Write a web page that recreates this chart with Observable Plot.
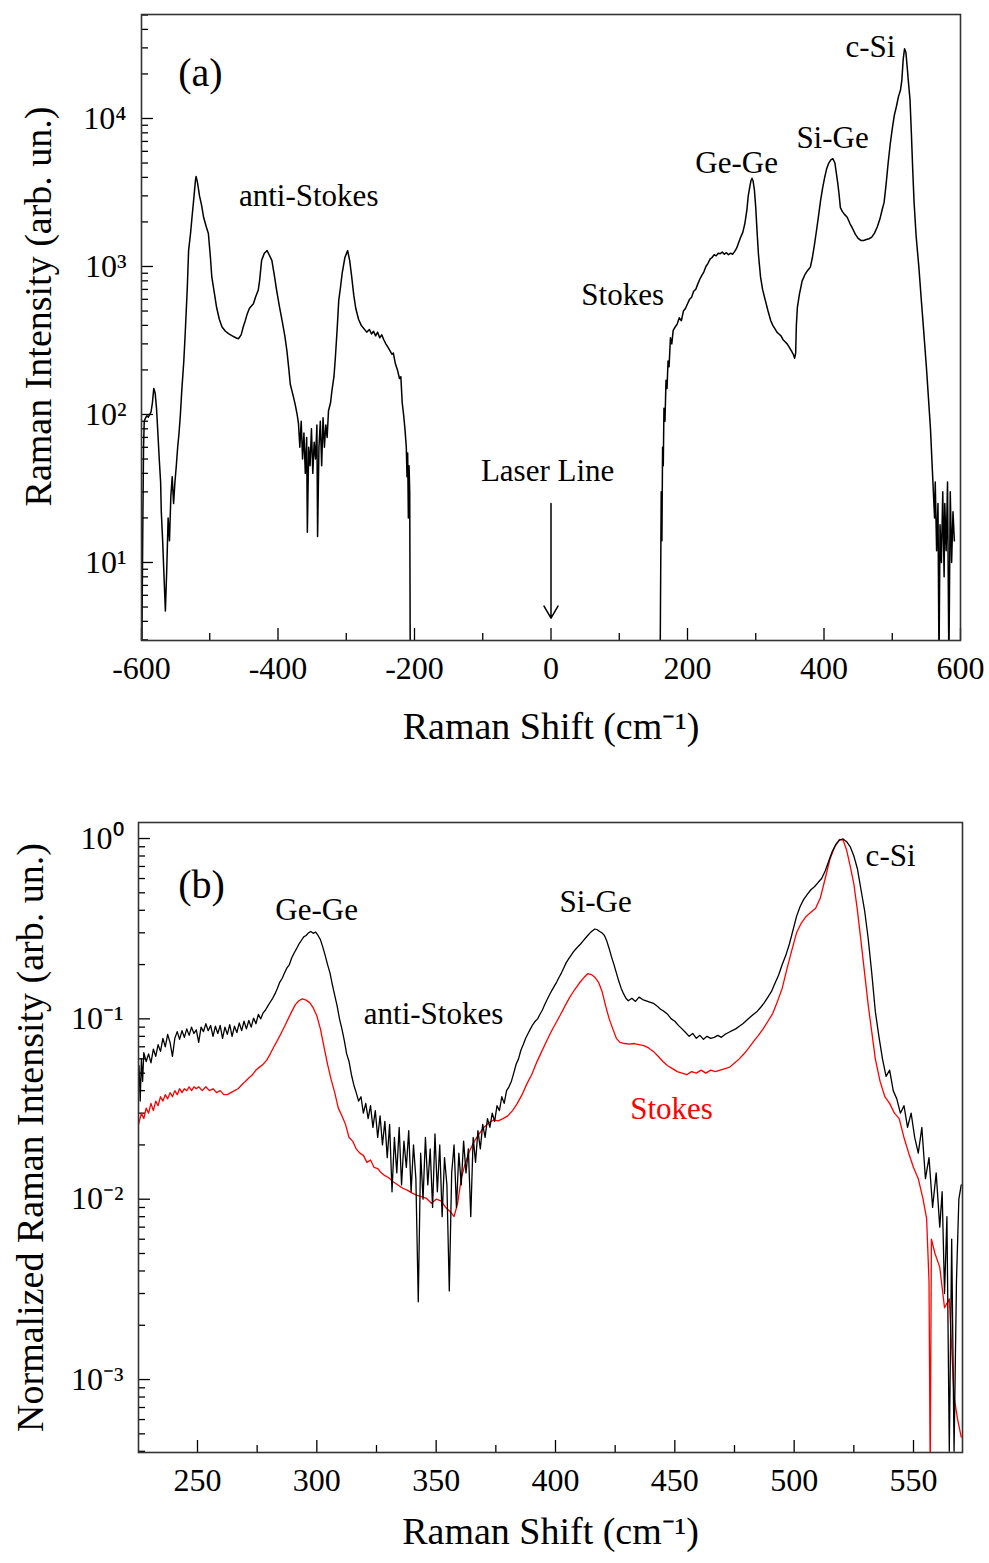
<!DOCTYPE html>
<html><head><meta charset="utf-8">
<script src="https://cdn.jsdelivr.net/npm/d3@7"></script>
<script src="https://cdn.jsdelivr.net/npm/@observablehq/plot@0.6"></script>
<style>body{margin:0;background:#fff;} #chart svg{display:block;}</style>
</head><body><div id="chart"></div>
<script>
// ---------- Panel (a): full spectrum, [Raman shift cm-1, intensity arb. un.] ----------
const antiStokesA = [[-600,1],[-599,5],[-598,20],[-597,60],[-596,90],[-594,95],[-592,98],[-590,96],[-588,100],[-586,104],[-584,120],[-582,150],[-580,140],[-578,110],[-576,75],[-574,50],[-572,35],[-571,22],[-569,14],[-567,8],[-565,4.7],[-563,9],[-561,20],[-559,14],[-557,28],[-555,38],[-553,25],[-551,35],[-549,45],[-547,60],[-545,75],[-543,100],[-541,145],[-538,230],[-536,350],[-533,700],[-531,1280],[-528,1700],[-526,2150],[-523,3000],[-521,3800],[-520,4060],[-518,3700],[-515,3000],[-512,2600],[-509,2150],[-505,1850],[-502,1670],[-499,1150],[-497,850],[-493,650],[-490,530],[-486,440],[-482,390],[-477,365],[-472,350],[-467,340],[-462,330],[-458,325],[-454,345],[-451,390],[-448,430],[-445,480],[-442,520],[-439,540],[-436,560],[-433,620],[-429,690],[-427,800],[-424,1100],[-420,1230],[-416,1280],[-413,1200],[-409,1100],[-405,850],[-402,690],[-398,540],[-394,430],[-390,340],[-387,270],[-384,200],[-382,160],[-378,135],[-375,118],[-372,100],[-370,87],[-368,60],[-366,90],[-364,50],[-362,75],[-360,40],[-358,70],[-357,16],[-355,60],[-353,45],[-351,80],[-349,40],[-347,65],[-345,50],[-343,85],[-342,15],[-340,60],[-338,90],[-336,45],[-334,95],[-332,60],[-330,85],[-328,70],[-326,106],[-323,120],[-321,145],[-318,180],[-316,240],[-313,400],[-311,590],[-308,750],[-306,900],[-302,1150],[-298,1280],[-295,1100],[-292,850],[-289,640],[-286,520],[-282,440],[-278,400],[-274,380],[-270,360],[-266,375],[-263,350],[-260,365],[-257,340],[-254,360],[-251,330],[-248,345],[-245,320],[-242,300],[-239,285],[-236,270],[-233,255],[-231,260],[-228,220],[-225,200],[-222,175],[-220,180],[-218,120],[-216,100],[-214,80],[-212,60],[-211,38],[-210,55],[-209,20],[-208,45],[-207,30],[-206,1]];
const stokesA = [[159.5,1],[160.5,6],[161.5,30],[162.5,14],[163.5,60],[164.5,45],[165.5,110],[167,90],[168.5,170],[170,150],[171.5,230],[173,210],[175,330],[177,300],[179,370],[182,390],[185,410],[188,450],[191,430],[194,500],[197,520],[200,560],[203,600],[206,620],[209,680],[212,700],[215,760],[218,820],[221,870],[224,920],[227,1000],[230,1050],[233,1120],[236,1150],[239,1200],[242,1180],[245,1230],[248,1220],[251,1250],[254,1210],[257,1240],[260,1200],[263,1230],[266,1210],[269,1260],[272,1330],[275,1450],[278,1580],[281,1700],[284,1950],[287,2400],[289,3000],[291,3400],[293,3800],[294.5,3950],[296,3800],[298,3300],[300,2500],[302,1700],[304,1200],[307,850],[310,700],[314,590],[318,500],[322,430],[325,400],[328,380],[331,360],[334,350],[337,340],[340,320],[343,310],[346,300],[349,285],[352,270],[355,255],[357,240],[358.5,260],[359.5,400],[361,530],[364,650],[368,800],[372,880],[376,940],[380,990],[383,1150],[386,1400],[389,1750],[392,2200],[395,2800],[398,3400],[401,4000],[404,4600],[407,5000],[410,5250],[413,5350],[416,5000],[418,4300],[420,3700],[422,3100],[424,2500],[427,2350],[430,2250],[434,2150],[438,1950],[442,1800],[446,1650],[450,1550],[454,1500],[458,1500],[462,1520],[466,1540],[470,1580],[474,1680],[478,1850],[482,2100],[485,2400],[488,2700],[491,3600],[494,5000],[497,6700],[500,8500],[503,10500],[506,12000],[509,14000],[512,15500],[514,18000],[516,25000],[518,29600],[520,28000],[522,22000],[524,17000],[526,13500],[528,8000],[530,4500],[532,2700],[535,1600],[539,990],[543,560],[546,370],[550,210],[553,130],[556,80],[559,40],[562,20],[563,35],[565,12],[567,25],[568.5,2],[570,18],[572,10],[574,30],[576,8],[577,25],[579,12],[581,35],[583,2],[585,30],[587,10],[589,22],[591,14]];

const xMajorA = [-600, -400, -200, 0, 200, 400, 600];
const xMinorA = [-500, -300, -100, 100, 300, 500];
const yMajorA = [10, 100, 1000, 10000];
const labelsA = ["(a)", "anti-Stokes", "Stokes", "Laser Line", "Ge-Ge", "Si-Ge", "c-Si"];
const laserLine = [{shift: 0, from: 25, to: 4.2}];

// ---------- Panel (b): normalized, zoomed ----------
const antiStokesB = [[225.5,0.055],[226,0.035],[226.5,0.06],[227,0.045],[227.5,0.065],[228.5,0.058],[229.5,0.064],[230.5,0.057],[231.5,0.068],[232.5,0.062],[233.5,0.072],[234.5,0.066],[235.5,0.078],[236.5,0.07],[237.5,0.082],[238.5,0.074],[239.5,0.062],[240.5,0.078],[241.5,0.085],[242.5,0.077],[243.5,0.086],[244.5,0.079],[245.5,0.088],[246.5,0.081],[247.5,0.09],[248.5,0.083],[249.5,0.087],[250.5,0.074],[251.5,0.09],[252.5,0.085],[253.5,0.094],[254.5,0.086],[255.5,0.092],[256.5,0.08],[257.5,0.091],[258.5,0.083],[259.5,0.092],[260.5,0.078],[261.5,0.09],[262.5,0.082],[263.5,0.093],[264.5,0.08],[265.5,0.091],[266.5,0.084],[267.5,0.095],[268.5,0.086],[269.5,0.097],[270.5,0.088],[271.5,0.098],[272.5,0.09],[273.5,0.101],[274.5,0.094],[275.5,0.106],[276.5,0.1],[277.5,0.108],[278.5,0.112],[279.5,0.118],[280.5,0.124],[281.5,0.13],[282.5,0.138],[283.5,0.148],[284.5,0.16],[285.5,0.168],[286.5,0.18],[287.5,0.192],[288.5,0.2],[289.5,0.218],[290.5,0.232],[291.5,0.245],[292.5,0.26],[293.5,0.272],[294.5,0.285],[295.5,0.29],[296.5,0.3],[297.5,0.305],[298.5,0.298],[299.5,0.303],[300.5,0.29],[301.5,0.275],[302.5,0.25],[303.5,0.225],[304.5,0.2],[305.5,0.18],[306.5,0.155],[307.5,0.135],[308.5,0.118],[309.5,0.1],[310.5,0.088],[311.5,0.076],[312.5,0.064],[313.5,0.058],[314.5,0.049],[315.5,0.043],[316.5,0.039],[317.5,0.035],[318.5,0.037],[319.5,0.03],[320.5,0.034],[321.5,0.028],[322.5,0.033],[323.5,0.025],[324.5,0.031],[325.5,0.022],[326.5,0.029],[327.5,0.02],[328.5,0.027],[329.5,0.017],[330.5,0.026],[331.5,0.011],[332.5,0.022],[333.5,0.014],[334.5,0.025],[335.5,0.012],[336.5,0.021],[337.5,0.015],[338.5,0.024],[339.5,0.011],[340.5,0.02],[341.5,0.013],[342.5,0.0027],[343.5,0.018],[344.5,0.01],[345.5,0.022],[346.5,0.012],[347.5,0.019],[348.5,0.009],[349.5,0.023],[350.5,0.011],[351.5,0.02],[352.5,0.008],[353.5,0.017],[354.5,0.012],[355.5,0.0031],[356.5,0.014],[357.5,0.02],[358.5,0.009],[359.5,0.018],[360.5,0.012],[361.5,0.021],[362.5,0.014],[363.5,0.019],[364.5,0.008],[365.5,0.022],[366.5,0.016],[367.5,0.024],[368.5,0.019],[369.5,0.026],[370.5,0.022],[371.5,0.028],[372.5,0.025],[373.5,0.03],[374.5,0.027],[375.5,0.033],[376.5,0.031],[377.5,0.037],[378.5,0.034],[379.5,0.04],[380.5,0.042],[381.5,0.045],[382.5,0.05],[383.5,0.056],[384.5,0.06],[385.5,0.067],[386.5,0.072],[387.5,0.078],[388.5,0.083],[389.5,0.088],[390.5,0.093],[391.5,0.097],[392.5,0.1],[393.5,0.106],[394.5,0.112],[395.5,0.12],[396.5,0.128],[397.5,0.136],[398.5,0.144],[399.5,0.152],[400.5,0.16],[401.5,0.17],[402.5,0.18],[403.5,0.192],[404.5,0.205],[405.5,0.215],[406.5,0.225],[407.5,0.235],[408.5,0.244],[409.5,0.252],[410.5,0.26],[411.5,0.27],[412.5,0.28],[413.5,0.29],[414.5,0.3],[415.5,0.308],[416.5,0.315],[417.5,0.312],[418.5,0.305],[419.5,0.3],[420.5,0.29],[421.5,0.27],[422.5,0.245],[423.5,0.22],[424.5,0.2],[425.5,0.18],[426.5,0.162],[427.5,0.148],[428.5,0.138],[429.5,0.13],[430.5,0.126],[432,0.13],[433.5,0.125],[435,0.132],[436.5,0.128],[438,0.126],[439.5,0.124],[441,0.122],[442.5,0.118],[444,0.113],[445.5,0.11],[447,0.106],[448.5,0.1],[450,0.097],[451.5,0.092],[453,0.088],[454.5,0.084],[456,0.08],[457.5,0.083],[459,0.078],[460.5,0.081],[462,0.077],[463.5,0.08],[465,0.078],[466.5,0.079],[468,0.081],[469.5,0.079],[471,0.082],[472.5,0.084],[474,0.086],[475.5,0.088],[477,0.091],[478.5,0.094],[480,0.098],[481.5,0.102],[483,0.106],[484.5,0.11],[486,0.116],[487.5,0.123],[489,0.132],[490.5,0.142],[492,0.158],[493.5,0.175],[495,0.2],[496.5,0.225],[498,0.26],[499.5,0.31],[501,0.37],[502.5,0.42],[504,0.46],[505.5,0.49],[507,0.52],[508.5,0.54],[510,0.57],[511.5,0.6],[513,0.66],[514.5,0.75],[516,0.85],[517.5,0.93],[519,0.98],[520.5,0.995],[522,0.96],[523.5,0.9],[525,0.8],[526.5,0.68],[528,0.52],[529.5,0.4],[531,0.28],[532.5,0.18],[534,0.11],[535.5,0.08],[537,0.06],[538.5,0.048],[540,0.052],[541.5,0.04],[543,0.036],[544.5,0.03],[546,0.033],[547.5,0.025],[549,0.03],[550.5,0.022],[552,0.018],[553.5,0.025],[555,0.013],[556.5,0.017],[558,0.009],[559.5,0.014],[561,0.007],[562,0.011],[563,0.003],[564,0.008],[565,0.0004],[566,0.006],[567,0.0004],[568,0.0035],[569,0.01],[570,0.012]];
const stokesB = [[225.3,0.026],[226.5,0.03],[227.5,0.028],[228.5,0.032],[229.5,0.03],[230.5,0.034],[231.5,0.031],[232.5,0.035],[233.5,0.033],[234.5,0.037],[235.5,0.035],[236.5,0.038],[237.5,0.036],[238.5,0.039],[239.5,0.037],[240.5,0.04],[241.5,0.038],[242.5,0.041],[243.5,0.039],[244.5,0.041],[245.5,0.04],[246.5,0.042],[247.5,0.04],[248.5,0.042],[249.5,0.041],[250.5,0.042],[252,0.04],[253.5,0.042],[255,0.04],[256.5,0.041],[258,0.039],[259.5,0.04],[261,0.038],[262.5,0.038],[264,0.039],[265.5,0.04],[267,0.041],[268.5,0.043],[270,0.045],[271.5,0.047],[273,0.049],[274.5,0.052],[276,0.054],[277.5,0.056],[279,0.059],[280.5,0.064],[282,0.07],[283.5,0.076],[285,0.083],[286.5,0.091],[288,0.1],[289.5,0.11],[291,0.12],[292.5,0.126],[294,0.129],[295.5,0.127],[297,0.123],[298.5,0.115],[300,0.104],[301.5,0.088],[303,0.07],[304.5,0.056],[306,0.046],[307.5,0.039],[309,0.032],[310.5,0.029],[312,0.026],[313.5,0.022],[315,0.021],[316.5,0.019],[318,0.018],[319.5,0.0175],[321,0.016],[322.5,0.0165],[324,0.015],[325.5,0.0148],[327,0.014],[328.5,0.0135],[330,0.0132],[332,0.0125],[334,0.012],[336,0.0115],[338,0.0112],[340,0.0108],[342,0.0105],[344,0.0103],[346,0.0101],[348,0.0095],[350,0.01],[352,0.0098],[354,0.009],[356,0.0085],[357.5,0.008],[359,0.0095],[360.5,0.013],[362,0.0155],[364,0.0185],[366,0.021],[368,0.023],[370,0.025],[372,0.0265],[374,0.0275],[376,0.0272],[378,0.028],[380,0.029],[382,0.031],[384,0.034],[386,0.038],[388,0.0436],[390,0.049],[392,0.057],[394,0.065],[396,0.074],[398,0.084],[400,0.094],[402,0.105],[404,0.118],[406,0.132],[408,0.145],[410,0.158],[412,0.17],[413.5,0.178],[415,0.176],[416.5,0.17],[418,0.16],[419.5,0.142],[421,0.118],[422.5,0.1],[424,0.088],[425.5,0.078],[427,0.074],[429,0.073],[431,0.0725],[433,0.073],[435,0.072],[437,0.071],[439,0.069],[441,0.066],[443,0.062],[445,0.058],[447,0.055],[449,0.053],[451,0.051],[453,0.05],[455,0.049],[457,0.051],[459,0.05],[461,0.052],[463,0.05],[465,0.052],[467,0.051],[469,0.052],[471,0.053],[473,0.054],[475,0.057],[477,0.06],[479,0.064],[481,0.069],[483,0.075],[485,0.081],[487,0.088],[489,0.097],[491,0.107],[493,0.125],[495,0.148],[497,0.19],[499,0.24],[501,0.3],[503,0.34],[505,0.37],[507,0.39],[509,0.41],[511,0.47],[513,0.6],[515,0.77],[517,0.9],[519,0.99],[520.5,0.98],[522,0.86],[523.5,0.7],[525,0.56],[526.5,0.4],[528,0.27],[529.5,0.18],[531,0.12],[532.5,0.085],[534,0.06],[536,0.045],[538,0.037],[540,0.034],[542,0.03],[544,0.028],[546,0.022],[548,0.018],[550,0.015],[552,0.013],[554,0.01],[555.5,0.0078],[556.5,0.0035],[557,0.0003],[557.5,0.006],[559,0.005],[561,0.0042],[563,0.0025],[565,0.0028],[567,0.0008],[568.5,0.0006],[570,0.00048]];

const xMajorB = [250, 300, 350, 400, 450, 500, 550];
const xMinorB = [275, 325, 375, 425, 475, 525];
const yMajorB = [0.001, 0.01, 0.1, 1];
const labelsB = ["(b)", "Ge-Ge", "anti-Stokes", "Si-Ge", "c-Si", "Stokes"];

// ---------- helpers ----------
const FONT = '"Liberation Serif","Times New Roman",serif';
const SUP = {"-": "\u207B", "0": "\u2070", "1": "\u00B9", "2": "\u00B2", "3": "\u00B3", "4": "\u2074"};
const pow10 = d => "10" + String(Math.round(Math.log10(d))).split("").map(c => SUP[c]).join("");
function minorLog(lo, hi) {
  const out = [];
  for (let e = Math.floor(Math.log10(lo)); e <= Math.ceil(Math.log10(hi)); e++)
    for (let m = 2; m <= 9; m++) { const v = m * Math.pow(10, e); if (v >= lo && v <= hi) out.push(v); }
  return out;
}
const X = d => d[0], Y = d => d[1];

function axes(xMajor, xMinor, yMajor, yDomain) {
  return [
    Plot.axisX({ticks: xMinor, tickSize: -7, tickFormat: () => "", label: null, strokeWidth: 1.3}),
    Plot.axisX({ticks: xMajor, tickSize: -12, tickPadding: 28, tickFormat: d => String(d), label: null, strokeWidth: 1.3}),
    Plot.axisY({ticks: minorLog(yDomain[0], yDomain[1]), tickSize: -7, tickFormat: () => "", label: null, strokeWidth: 1.3}),
    Plot.axisY({ticks: yMajor, tickSize: -12, tickPadding: 27, tickFormat: pow10, label: null, strokeWidth: 1.3})
  ];
}

// ---------- Panel (a) ----------
const yDomA = [2.97, 50430];
const plotA = Plot.plot({
  width: 989, height: 780,
  marginTop: 14, marginBottom: 140, marginLeft: 141, marginRight: 29,
  style: {fontFamily: FONT, fontSize: "32px", color: "#000", background: "#fff"},
  x: {domain: [-600, 600]},
  y: {type: "log", domain: yDomA},
  marks: [
    ...axes(xMajorA, xMinorA, yMajorA, yDomA),
    Plot.line(antiStokesA, {x: X, y: Y, stroke: "#000", strokeWidth: 1.5, clip: true}),
    Plot.line(stokesA, {x: X, y: Y, stroke: "#000", strokeWidth: 1.5, clip: true}),
    Plot.arrow(laserLine, {x1: "shift", x2: "shift", y1: "from", y2: "to", stroke: "#000", strokeWidth: 1.5, headLength: 14}),
    Plot.frame({stroke: "#333", strokeWidth: 1.6}),
    Plot.text([labelsA[0]], {x: () => -513.6, y: () => 20100, fontSize: 40}),
    Plot.text([labelsA[1]], {x: () => -355, y: () => 2970, fontSize: 31}),
    Plot.text([labelsA[2]], {x: () => 105, y: () => 637, fontSize: 31}),
    Plot.text([labelsA[3]], {x: () => -5, y: () => 41.2, fontSize: 31}),
    Plot.text([labelsA[4]], {x: () => 272, y: () => 4960, fontSize: 31}),
    Plot.text([labelsA[5]], {x: () => 412.5, y: () => 7330, fontSize: 31}),
    Plot.text([labelsA[6]], {x: () => 468, y: () => 30200, fontSize: 31}),
    Plot.text(["Raman Shift (cm\u207B\u00B9)"], {frameAnchor: "bottom", textAnchor: "middle", dy: 98, fontSize: 38}),
    Plot.text(["Raman Intensity (arb. un.)"], {frameAnchor: "left", textAnchor: "middle", rotate: -90, dx: -103, dy: -21, fontSize: 38})
  ]
});

// ---------- Panel (b) ----------
const yDomB = [3.94e-4, 1.227];
const plotB = Plot.plot({
  width: 989, height: 783,
  marginTop: 42, marginBottom: 111, marginLeft: 138, marginRight: 27,
  style: {fontFamily: FONT, fontSize: "32px", color: "#000", background: "#fff"},
  x: {domain: [225.28, 570.53]},
  y: {type: "log", domain: yDomB},
  marks: [
    ...axes(xMajorB, xMinorB, yMajorB, yDomB),
    Plot.line(stokesB, {x: X, y: Y, stroke: "#ff0000", strokeWidth: 1.3, clip: true}),
    Plot.line(antiStokesB, {x: X, y: Y, stroke: "#000", strokeWidth: 1.3, clip: true}),
    Plot.frame({stroke: "#333", strokeWidth: 1.6}),
    Plot.text([labelsB[0]], {x: () => 251.7, y: () => 0.549, fontSize: 40}),
    Plot.text([labelsB[1]], {x: () => 299.9, y: () => 0.399, fontSize: 31}),
    Plot.text([labelsB[2]], {x: () => 348.9, y: () => 0.1057, fontSize: 31}),
    Plot.text([labelsB[3]], {x: () => 416.8, y: () => 0.442, fontSize: 31}),
    Plot.text([labelsB[4]], {x: () => 540.4, y: () => 0.795, fontSize: 31}),
    Plot.text([labelsB[5]], {x: () => 448.6, y: () => 0.0318, fontSize: 31, fill: "#ff0000"}),
    Plot.text(["Raman Shift (cm\u207B\u00B9)"], {frameAnchor: "bottom", textAnchor: "middle", dy: 91, fontSize: 38}),
    Plot.text(["Normalized Raman Intensity (arb. un.)"], {frameAnchor: "left", textAnchor: "middle", rotate: -90, dx: -108, fontSize: 38})
  ]
});

const root = document.getElementById("chart");
root.appendChild(plotA);
root.appendChild(plotB);
</script>
</body></html>
